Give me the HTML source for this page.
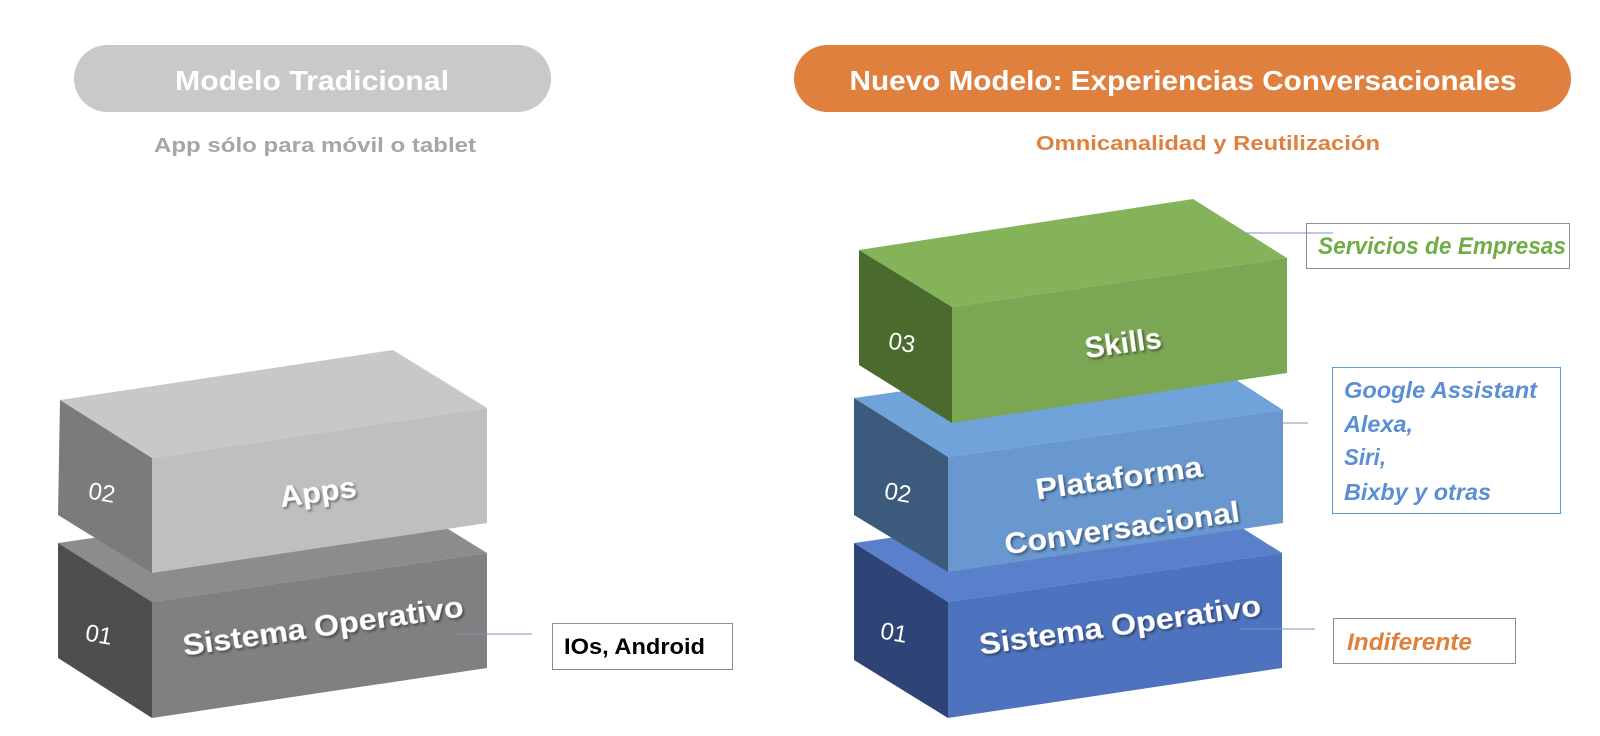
<!DOCTYPE html>
<html><head><meta charset="utf-8"><style>
html,body{margin:0;padding:0;background:#fff;}
svg{display:block;}
text{font-family:"Liberation Sans","DejaVu Sans",sans-serif;font-weight:bold;}
.d{font-weight:normal;}
</style></head><body>
<svg width="1600" height="736" viewBox="0 0 1600 736" xmlns="http://www.w3.org/2000/svg">
<defs>
<filter id="sh" x="-10%" y="-10%" width="120%" height="140%"><feDropShadow dx="1.5" dy="2" stdDeviation="1.2" flood-color="#000" flood-opacity="0.45"/></filter>
</defs>
<!-- Pills -->
<rect x="74" y="45" width="477" height="67" rx="33.5" fill="#c9c9c9"/>
<text x="312" y="90" font-size="28" fill="#fff" text-anchor="middle" textLength="274" lengthAdjust="spacingAndGlyphs">Modelo Tradicional</text>
<text x="315" y="152" font-size="20" fill="#a6a6a6" text-anchor="middle" textLength="322" lengthAdjust="spacingAndGlyphs">App sólo para móvil o tablet</text>
<rect x="794" y="45" width="777" height="67" rx="33.5" fill="#e0803f"/>
<text x="1183" y="90" font-size="28" fill="#fff" text-anchor="middle" textLength="667" lengthAdjust="spacingAndGlyphs">Nuevo Modelo: Experiencias Conversacionales</text>
<text x="1208" y="150" font-size="20" fill="#e0803f" text-anchor="middle" textLength="344" lengthAdjust="spacingAndGlyphs">Omnicanalidad y Reutilización</text>

<!-- LEFT: OS block -->
<polygon points="58,543 393,495 487,553 152,602" fill="#8c8c8c"/>
<polygon points="58,543 152,602 152,718 58,658" fill="#4e4e4e"/>
<polygon points="152,602 487,553 487,668 152,718" fill="#808080"/>
<text x="86" y="642" font-size="24" fill="#fff" class="d" transform="rotate(10 95 632)">01</text>
<text x="323" y="636" font-size="30" fill="#fff" text-anchor="middle" filter="url(#sh)" transform="rotate(-8 323 626)" textLength="283" lengthAdjust="spacingAndGlyphs">Sistema Operativo</text>
<!-- LEFT: Apps block -->
<polygon points="60,400 393,350 487,408 152,458" fill="#c8c8c8"/>
<polygon points="60,400 152,458 152,573 58,515" fill="#7b7b7b"/>
<polygon points="152,458 487,408 487,523 152,573" fill="#bfbfbf"/>
<text x="89" y="500" font-size="24" fill="#fff" class="d" transform="rotate(10 98 490)">02</text>
<text x="318" y="502" font-size="30" fill="#fff" text-anchor="middle" filter="url(#sh)" transform="rotate(-8 318 492)" textLength="77" lengthAdjust="spacingAndGlyphs">Apps</text>
<line x1="458" y1="634" x2="532" y2="634" stroke="#7a95c0" stroke-width="1"/>
<rect x="552.5" y="623.5" width="180" height="46" fill="#fff" stroke="#8c8c8c"/>
<text x="564" y="654" font-size="22" fill="#000" textLength="141" lengthAdjust="spacingAndGlyphs">IOs, Android</text>

<!-- RIGHT: OS block -->
<polygon points="854,543 1190,495 1282,553 948,602" fill="#5a80cc"/>
<polygon points="854,543 948,602 948,718 854,660" fill="#2e4476"/>
<polygon points="948,602 1282,553 1282,668 948,718" fill="#4e73be"/>
<text x="881" y="640" font-size="24" fill="#fff" class="d" transform="rotate(10 890 630)">01</text>
<text x="1120" y="635" font-size="30" fill="#fff" text-anchor="middle" filter="url(#sh)" transform="rotate(-8 1120 625)" textLength="284" lengthAdjust="spacingAndGlyphs">Sistema Operativo</text>
<!-- RIGHT: Plataforma block -->
<polygon points="854,398 1190,350 1283,410 948,457" fill="#70a3da"/>
<polygon points="854,398 948,457 948,572 854,515" fill="#3c5a7b"/>
<polygon points="948,457 1283,410 1283,523 948,572" fill="#6898cf"/>
<text x="885" y="500" font-size="24" fill="#fff" class="d" transform="rotate(10 894 490)">02</text>
<text x="1119" y="488" font-size="30" fill="#fff" text-anchor="middle" filter="url(#sh)" transform="rotate(-8 1119 478)" textLength="168" lengthAdjust="spacingAndGlyphs">Plataforma</text>
<text x="1122" y="538" font-size="30" fill="#fff" text-anchor="middle" filter="url(#sh)" transform="rotate(-8 1122 528)" textLength="237" lengthAdjust="spacingAndGlyphs">Conversacional</text>
<!-- RIGHT: Skills block -->
<polygon points="859,250 1193,199 1287,258 952,307" fill="#85b35a"/>
<polygon points="859,250 952,307 952,423 859,365" fill="#4a6b2d"/>
<polygon points="952,307 1287,258 1287,373 952,423" fill="#7ba653"/>
<text x="889" y="350" font-size="24" fill="#fff" class="d" transform="rotate(10 898 340)">03</text>
<text x="1123" y="353" font-size="30" fill="#fff" text-anchor="middle" filter="url(#sh)" transform="rotate(-8 1123 343)" textLength="77" lengthAdjust="spacingAndGlyphs">Skills</text>

<!-- Right labels -->
<rect x="1306.5" y="223.5" width="263" height="45" fill="#fff" stroke="#8c8c8c"/>
<text x="1318" y="254" font-size="24" fill="#70ad47" font-style="italic" textLength="248" lengthAdjust="spacingAndGlyphs">Servicios de Empresas</text>
<rect x="1332.5" y="367.5" width="228" height="146" fill="#fff" stroke="#5b9bd5"/>
<g font-size="23" fill="#5b8fd5" font-style="italic">
<text x="1344" y="398" textLength="193" lengthAdjust="spacingAndGlyphs">Google Assistant</text>
<text x="1344" y="432" textLength="69" lengthAdjust="spacingAndGlyphs">Alexa,</text>
<text x="1344" y="465" textLength="42" lengthAdjust="spacingAndGlyphs">Siri,</text>
<text x="1344" y="500" textLength="147" lengthAdjust="spacingAndGlyphs">Bixby y otras</text>
</g>
<rect x="1333.5" y="618.5" width="182" height="45" fill="#fff" stroke="#8c8c8c"/>
<text x="1347" y="650" font-size="24" fill="#e0803f" font-style="italic" textLength="125" lengthAdjust="spacingAndGlyphs">Indiferente</text>

<!-- Connectors right -->
<line x1="1240" y1="233" x2="1333" y2="233" stroke="#7a95c0" stroke-width="1"/>
<line x1="1215" y1="423" x2="1308" y2="423" stroke="#7a95c0" stroke-width="1"/>
<line x1="1240" y1="629" x2="1315" y2="629" stroke="#7a95c0" stroke-width="1"/>
</svg>
</body></html>
